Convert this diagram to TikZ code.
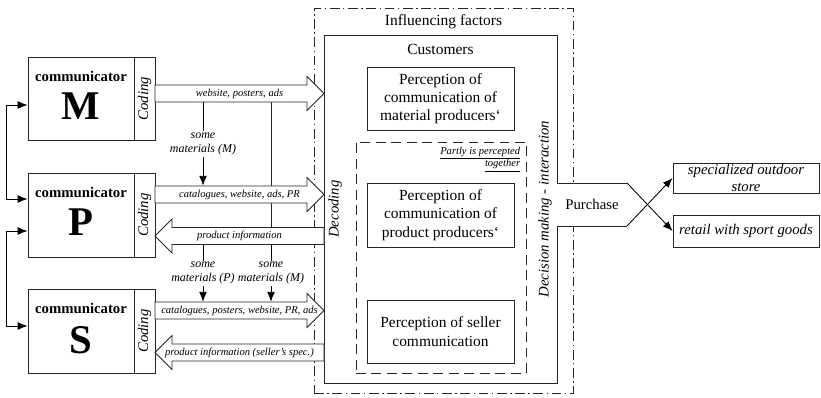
\documentclass[tikz,border=0pt]{standalone}
\usepackage{fontspec}
\setmainfont{Liberation Serif}
\usepackage{tikz}
\usetikzlibrary{calc,arrows.meta,positioning,fit,backgrounds}

\begin{document}
\begin{tikzpicture}[x=0.025cm,y=-0.025cm]

% --- STYLES ---
\tikzset{
  box/.style={draw=black!85, line width=0.6pt, inner sep=0pt},
  title/.style={font=\fontsize{11}{13}\selectfont, inner sep=0pt},
  perctext/.style={align=center, inner sep=0pt, font=\fontsize{11}{13}\selectfont},
  commtitle/.style={font=\bfseries\fontsize{10.5}{12}\selectfont, inner sep=0pt},
  commletter/.style={font=\bfseries\fontsize{29}{30}\selectfont, inner sep=0pt},
  sidetext/.style={font=\itshape\fontsize{10.5}{12}\selectfont, rotate=90, inner sep=0pt},
  flow/.style={draw=black!85, fill=white, line width=0.6pt},
  flowlabel/.style={inner sep=0pt, font=\itshape\fontsize{7.5}{9}\selectfont},
  matlabel/.style={fill=white, inner sep=1pt, align=center, font=\itshape\fontsize{8.5}{10}\selectfont},
  note/.style={inner sep=0pt, align=right, font=\itshape\fontsize{7.5}{9}\selectfont},
  conn/.style={black, line width=0.6pt, -{Latex[length=7pt,width=5.5pt]}},
  bothconn/.style={black, line width=0.6pt, {Latex[length=7pt,width=5.5pt]}-{Latex[length=7pt,width=5.5pt]}},
  outlettext/.style={align=center, inner sep=0pt, font=\itshape\fontsize{10.5}{12}\selectfont},
}

% --- HOLLOW FLOW ARROW MACRO ---
\newcommand{\flowarrow}[5]{% name, tail x, tip x, centre y, label
  \pgfmathsetmacro{\headx}{#3>#2 ? #3-17 : #3+17}
  \path[flow] (#2,#4-8.5) -- (\headx,#4-8.5) -- (\headx,#4-17)
    -- (#3,#4) -- (\headx,#4+17) -- (\headx,#4+8.5) -- (#2,#4+8.5) -- cycle;
  \node[inner sep=0pt, fit={(#2,#4-8.5) (#3,#4+8.5)}] (#1) {};
  \node[flowlabel] (#1-l) at (#1.center) {#5};
}

\useasboundingbox (0,0) rectangle (821,397);

% ================= INFLUENCING FACTORS & CUSTOMERS =================
\node[box, dash pattern=on 7pt off 2.5pt on 1pt off 2.5pt, fit={(314,8) (573,393)}] (infl) {};
\node[title] (inflt) at ($(infl.north)+(0,14)$) {Influencing factors};
\node[box, fit={(324,35) (557,383)}] (cust) {};
\node[title] (custt) at ($(cust.north)+(0,15)$) {Customers};
\node[box, dash pattern=on 7pt off 4pt, fit={(356,142) (526,373)}] (joint) {};
\node[note, anchor=north east] (jointt) at ($(joint.north east)+(-6,5)$) {\underline{Partly is percepted}\\\underline{together}};

\node[box, fit={(367,67) (514,130)}] (pm) {};
\node[perctext] (pmt) at (pm.center) {Perception of\\communication of\\material producers‘};
\node[box, fit={(367,183) (514,247)}] (pp) {};
\node[perctext] (ppt) at (pp.center) {Perception of\\communication of\\product producers‘};
\node[box, fit={(367,300) (514,363)}] (ps) {};
\node[perctext] (pst) at (ps.center) {Perception of seller\\communication};

\node[sidetext] (dec) at (335,209) {Decoding};
\node[sidetext] (dm) at (545,209) {Decision making - interaction};

% ================= COMMUNICATORS =================
\node[box, fit={(28,57) (134,140)}] (cm) {};
\node[box, fit={(134,57) (155,140)}] (cmc) {};
\node[commtitle] (cmt) at ($(cm.north)+(0,20)$) {communicator};
\node[commletter] (cml) at ($(cm.north)+(0,50)$) {M};
\node[sidetext] (cmct) at (cmc.center) {Coding};

\node[box, fit={(28,173) (134,257)}] (cp) {};
\node[box, fit={(134,173) (155,257)}] (cpc) {};
\node[commtitle] (cpt) at ($(cp.north)+(0,20)$) {communicator};
\node[commletter] (cpl) at ($(cp.north)+(0,50)$) {P};
\node[sidetext] (cpct) at (cpc.center) {Coding};

\node[box, fit={(28,289) (134,373)}] (cs) {};
\node[box, fit={(134,289) (155,373)}] (csc) {};
\node[commtitle] (cst) at ($(cs.north)+(0,20)$) {communicator};
\node[commletter] (csl) at ($(cs.north)+(0,52)$) {S};
\node[sidetext] (csct) at (csc.center) {Coding};

\draw[bothconn] ($(cm.west)+(0,6.5)$) -- ++(-21,0) |- ($(cp.west)+(0,-16)$);
\draw[bothconn] ($(cp.west)+(0,16)$) -- ++(-21,0) |- ($(cs.west)+(0,-5)$);

% ================= COMMUNICATION FLOWS =================
\flowarrow{a1}{155}{324}{93.5}{website, posters, ads}
\flowarrow{a2}{155}{324}{194.5}{catalogues, website, ads, PR}
\flowarrow{a3}{324}{155}{236}{product information}
\flowarrow{a4}{155}{324}{310.5}{catalogues, posters, website, PR, ads}
\flowarrow{a5}{324}{155}{352.5}{product information (seller’s spec.)}

\coordinate (mx) at (203,0);
\coordinate (nx) at (271,0);
\begin{scope}[on background layer]
  \draw[box] (a1.south -| nx) -- (a3.north -| nx);
\end{scope}
\draw[conn] (a1.south -| mx) -- node[matlabel] (m1) {some\\materials (M)} (a2.north -| mx);
\draw[conn] (a3.south -| mx) -- node[matlabel] (m2) {some\\materials (P)} (a4.north -| mx);
\draw[conn] (a3.south -| nx) -- node[matlabel] (m3) {some\\materials (M)} (a4.north -| nx);

% ================= PURCHASE =================
\coordinate (pnw) at (557,183);
\coordinate (pse) at (627,226);
\path[fill=white] (pnw) -- (pnw -| pse) -- ($(pnw -| pse)!0.5!(pse)+(23,0)$) -- (pse) -- (pse -| pnw) -- cycle;
\node[inner sep=0pt, fit={(pnw) (pse)}] (pur) {};
\node[title, font=\fontsize{10.5}{12}\selectfont] (purt) at (pur.center) {Purchase};
\draw[box] (pnw) -- (pnw -| pse);
\draw[box] (pse -| pnw) -- (pse);

\node[box, fit={(673,163) (819,193)}] (spec) {};
\node[outlettext] (spect) at (spec.center) {specialized outdoor\\store};
\node[box, fit={(673,215) (819,247)}] (ret) {};
\node[outlettext] (rett) at (ret.center) {retail with sport goods};
\draw[conn] (pnw -| pse) -- (ret.west);
\draw[conn] (pse) -- (spec.west);

\end{tikzpicture}
\end{document}
